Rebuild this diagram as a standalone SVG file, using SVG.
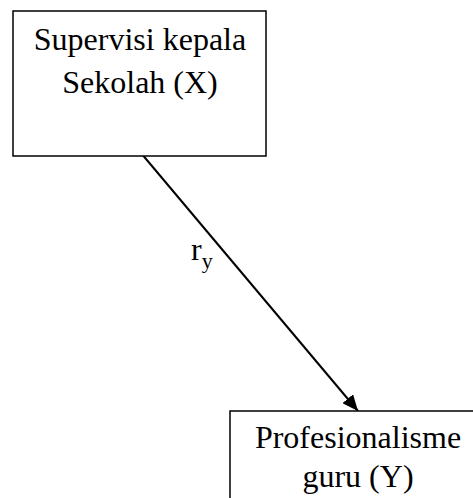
<svg xmlns="http://www.w3.org/2000/svg" width="473" height="498" viewBox="0 0 473 498">
<style>
.box{fill:#fff;stroke:#000;stroke-width:1.5}
.t{font-family:"Liberation Serif","Times New Roman",serif;font-size:32px;fill:#000;text-anchor:middle}
.c{stroke:#000;stroke-width:2;fill:none}
</style>
<defs>
<marker id="ah" markerWidth="16" markerHeight="14" refX="16" refY="7" orient="auto" markerUnits="userSpaceOnUse" viewBox="0 0 16 14">
<path d="M0,0 L16,7 L0,14 z" fill="#000"/>
</marker>
</defs>
<rect width="473" height="498" fill="#fff"/>
<g id="connectors">
<line class="c" x1="141" y1="153" x2="358" y2="411" marker-end="url(#ah)"/>
<text x="191" y="260" font-family="Liberation Serif, serif" font-size="32" fill="#000">r<tspan font-size="22" dy="8">y</tspan></text>
</g>
<g id="nodeX">
<rect class="box" x="13" y="11" width="253" height="145"/>
<text class="t" x="140" y="50">Supervisi kepala</text>
<text class="t" x="140" y="93">Sekolah (X)</text>
</g>
<g id="nodeY">
<rect class="box" x="230" y="411" width="260" height="100"/>
<text class="t" x="358" y="448">Profesionalisme</text>
<text class="t" x="358" y="487">guru (Y)</text>
</g>
</svg>
